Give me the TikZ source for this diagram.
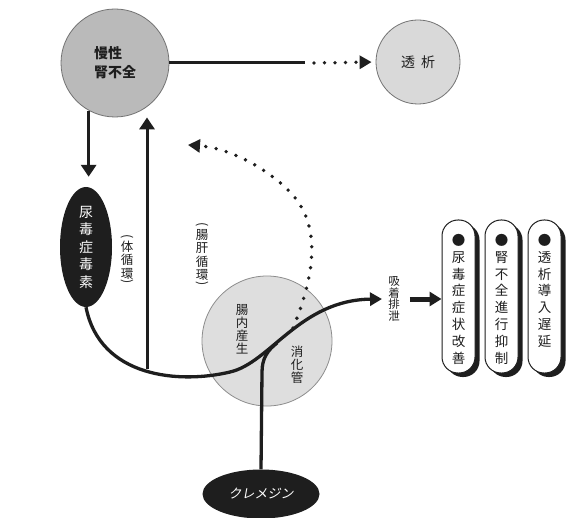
\documentclass[tikz,border=0pt]{standalone}
\usepackage{fontspec}
\usepackage{graphicx}
\newfontfamily\cjk{Noto Sans CJK JP}
\newfontfamily\cjkit[FakeSlant=0.18]{Noto Sans CJK JP}
\usetikzlibrary{arrows.meta,shapes.geometric,shadows}
\definecolor{ink}{HTML}{1E1E1E}
\newcommand\vopen{\raisebox{2pt}{\rotatebox[origin=c]{-90}{(}}}
\newcommand\vclose{\raisebox{0pt}{\rotatebox[origin=c]{-90}{)}}}
\begin{document}
\begin{tikzpicture}[x=1pt,y=-1pt,
  ln/.style={draw=ink,line width=3pt},
  tip/.style={-{Triangle[length=12pt,width=15pt]}},
  dtip/.style={-{Triangle[length=12pt,width=13pt]}},
  dots/.style={draw=ink,line width=3.8pt,line cap=round,dash pattern=on 0pt off 10.5pt},
  pill/.style={rectangle,rounded corners=16pt,minimum width=33pt,minimum height=153pt,
    fill=white,draw=ink,line width=1pt,
    drop shadow={shadow xshift=4.5pt,shadow yshift=-4pt,fill=ink,opacity=1}},
  pilltext/.style={anchor=north,align=center,inner sep=0pt,text=ink,
    font=\cjk\fontsize{13.5}{16.8}\selectfont},
  vlab/.style={align=center,inner sep=0pt,text=ink}
]
\useasboundingbox (0,0) rectangle (569,518);
\fill[white] (0,0) rectangle (569,518);

% circles
\node[circle,minimum size=108pt,fill=black!27,draw=black!55,line width=0.8pt,
  align=left,text=ink,font=\cjk\bfseries\fontsize{14}{19}\selectfont] (ckd) at (115,63) {慢性\\腎不全};
\node[circle,minimum size=84pt,fill=black!15,draw=black!55,line width=0.8pt,
  text=ink,font=\cjk\fontsize{14}{14}\selectfont] (dia) at (418,62) {透\hspace{6pt}析};
\node[circle,minimum size=130pt,fill=black!13,draw=black!45,line width=0.8pt] (gut) at (267,341) {};

% dark ellipses
\node[ellipse,minimum width=52pt,minimum height=120pt,fill=ink,text=white,align=center,inner sep=0pt,
  font=\cjk\fontsize{14}{17.5}\selectfont] (tox) at (86,247) {尿\\毒\\症\\毒\\素};
\node[ellipse,minimum width=117pt,minimum height=49pt,fill=ink,text=white,
  font=\cjkit\fontsize{13}{13}\selectfont] (kre) at (261,494) {クレメジン};

% labels
\node[vlab,font=\cjk\fontsize{12.5}{13}\selectfont] (gutl) at (242,329) {腸\\内\\産\\生};
\node[vlab,font=\cjk\fontsize{12.5}{13}\selectfont] (gitl) at (297,365) {消\\化\\管};
\node[vlab,font=\cjk\fontsize{11.5}{11.7}\selectfont] (adsorb) at (394,299) {吸\\着\\排\\泄};
\node[vlab,font=\cjk\fontsize{12.5}{13.5}\selectfont] (sys) at (127,260) {\vopen\\[-5pt]体\\循\\環\\[-6pt]\vclose};
\node[vlab,font=\cjk\fontsize{12.5}{13.5}\selectfont] (ehcl) at (202,255) {\vopen\\[-5pt]腸\\肝\\循\\環\\[-6pt]\vclose};

% pills
\node[pill] (p1) at (458.5,296.5) {};
\node[pill] (p2) at (501.5,296.5) {};
\node[pill] (p3) at (544.5,296.5) {};
\node[pilltext] (p1t) at (p1.north |- 0,234) {●\\尿\\毒\\症\\症\\状\\改\\善};
\node[pilltext] (p2t) at (p2.north |- 0,234) {●\\腎\\不\\全\\進\\行\\抑\\制};
\node[pilltext] (p3t) at (p3.north |- 0,234) {●\\透\\析\\導\\入\\遅\\延};

% coordinates
\coordinate (dotstart) at (305,63);
\coordinate (dotfirst) at (314,63);
\coordinate (upfoot) at (147,369);
\coordinate (absend) at (382,299);
\coordinate (ehcstart) at (293,328);
\coordinate (ehcend) at (188,145);

% connectors
\draw[ln] (ckd.east) -- (dotstart);
\draw[dots,dtip,shorten >=4pt] (dotfirst) -- (dia.west);
\draw[ln,tip,shorten >=10pt] (ckd.241) -- (ckd.241 |- tox.north);
\draw[ln,line width=3.3pt] (kre.north) -- (262,372) .. controls (262,358) and (268,350) .. (277,343);
\draw[ln,line width=3.3pt,dtip] (tox.south) .. controls (100,378) and (180,384) .. (230,372)
   .. controls (270,363) and (300,300) .. (absend);
\draw[ln,tip] (upfoot) -- (upfoot |- ckd.south);
\draw[dots,dtip] (ehcstart) .. controls (315,275) and (322,225) .. (290,192)
   .. controls (268,169) and (230,148) .. (ehcend);
\draw[ink,line width=5pt,-{Triangle[length=12pt,width=14pt]},shorten <=10pt] (adsorb.east) -- (adsorb.east -| p1.west);
\end{tikzpicture}
\end{document}
